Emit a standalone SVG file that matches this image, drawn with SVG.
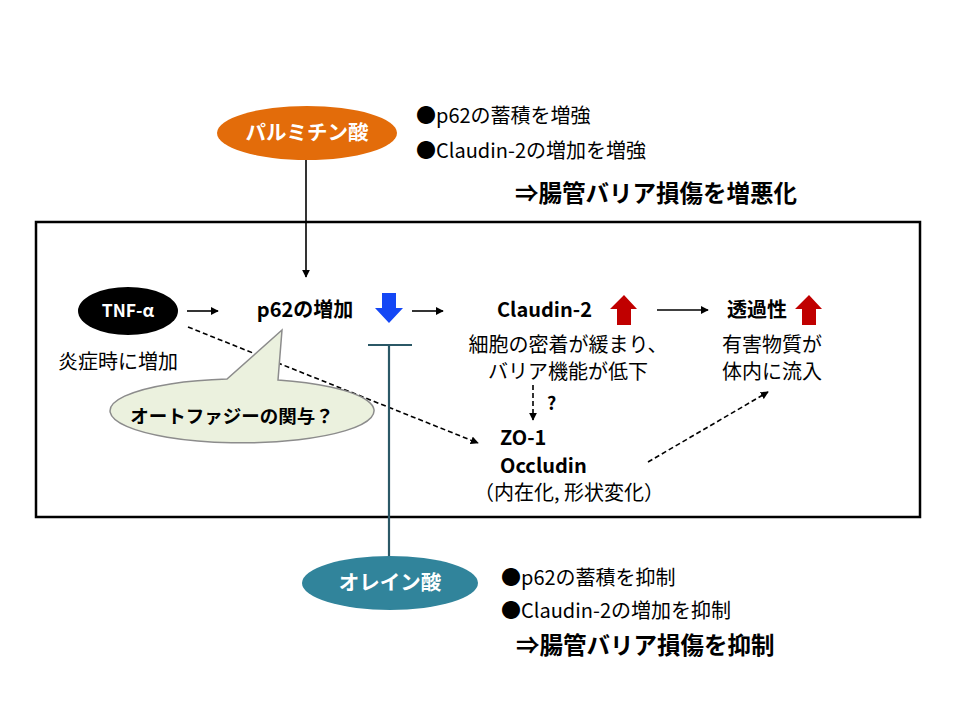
<svg xmlns="http://www.w3.org/2000/svg" width="960" height="720" viewBox="0 0 960 720">
<style>
text{font-family:"Noto Sans CJK JP","Noto Sans",sans-serif;fill:#000}
.b{font-weight:bold}
.w{fill:#fff;font-weight:bold}
.n{font-size:20px}
.m{font-size:20px;font-weight:bold}
.ln{stroke:#000;stroke-width:1.6;fill:none}
.dash{stroke:#000;stroke-width:1.6;fill:none;stroke-dasharray:5 3}
</style>
<defs>
<marker id="ah" viewBox="0 0 10 10" refX="9" refY="5" markerWidth="5" markerHeight="5" orient="auto" markerUnits="strokeWidth">
<path d="M0,0 L10,5 L0,10 z" fill="#000"/>
</marker>
</defs>
<rect width="960" height="720" fill="#fff"/>
<rect x="36" y="222" width="884" height="295" fill="none" stroke="#000" stroke-width="2.5"/>

<g id="connectors">
<line class="ln" x1="306" y1="160" x2="306" y2="277" marker-end="url(#ah)"/>
<line class="ln" x1="187" y1="311" x2="218" y2="311" marker-end="url(#ah)"/>
<line class="ln" x1="412" y1="311" x2="443" y2="311" marker-end="url(#ah)"/>
<line class="ln" x1="657" y1="310" x2="708" y2="310" marker-end="url(#ah)"/>
<line class="dash" x1="188" y1="327" x2="478" y2="443" marker-end="url(#ah)"/>
<line class="dash" x1="533" y1="385" x2="533" y2="420" marker-end="url(#ah)"/>
<line class="dash" x1="648" y1="462" x2="768" y2="392" marker-end="url(#ah)"/>
<line x1="368" y1="345" x2="412" y2="345" stroke="#2B5866" stroke-width="2.2"/>
<line x1="389" y1="345" x2="389" y2="557" stroke="#2B5866" stroke-width="2.2"/>
</g>

<g id="palmitic">
<ellipse cx="307" cy="133" rx="90" ry="27" fill="#E36C0A"/>
<text class="w" x="307" y="140" font-size="20.5" text-anchor="middle">パルミチン酸</text>
</g>
<g id="palmitic-notes">
<text class="n" x="416" y="123">●p62の蓄積を増強</text>
<text class="n" x="416" y="158">●Claudin-2の増加を増強</text>
<text class="b" x="515" y="202" font-size="23.5">⇒腸管バリア損傷を増悪化</text>
</g>

<g id="tnf">
<ellipse cx="128" cy="311" rx="50" ry="24" fill="#000"/>
<text class="w" x="128" y="317" font-size="17.5" text-anchor="middle">TNF-α</text>
<text class="n" x="58" y="369" font-size="20.5">炎症時に増加</text>
</g>

<g id="p62">
<text class="m" x="305" y="317" text-anchor="middle" font-size="20.5">p62の増加</text>
<path d="M382,293 H396 V308 H403 L389,323 L375,308 H382 Z" fill="#1447F5"/>
</g>

<g id="autophagy">
<path d="M282,330 L278,380 A132,32 0 1 1 227,379 Z" fill="#EBF1DE" stroke="#8C8C8C" stroke-width="1.5"/>
<text class="b" x="232" y="423" font-size="18.5" text-anchor="middle">オートファジーの関与？</text>
</g>

<g id="claudin">
<text class="m" x="497" y="317" font-size="21.5">Claudin-2</text>
<path d="M617,325 H631 V309 H637 L624,295 L610,309 H617 Z" fill="#C00000"/>
<text class="n" x="568" y="352" text-anchor="middle">細胞の密着が緩まり、</text>
<text class="n" x="568" y="379" text-anchor="middle">バリア機能が低下</text>
<text class="b" x="547" y="410" font-size="18">?</text>
</g>

<g id="permeability">
<text class="m" x="727" y="317">透過性</text>
<path d="M802,325 H816 V309 H822 L809,295 L795,309 H802 Z" fill="#C00000"/>
<text class="n" x="772" y="352" text-anchor="middle">有害物質が</text>
<text class="n" x="772" y="379" text-anchor="middle">体内に流入</text>
</g>

<g id="zo1">
<text class="m" x="500" y="445" font-size="20.5">ZO-1</text>
<text class="m" x="500" y="473" font-size="20.5">Occludin</text>
<text class="n" x="474" y="500">（内在化, 形状変化）</text>
</g>

<g id="oleic">
<ellipse cx="390" cy="583" rx="88" ry="27" fill="#31849B"/>
<text class="w" x="390" y="590" font-size="20.5" text-anchor="middle">オレイン酸</text>
</g>
<g id="oleic-notes">
<text class="n" x="501" y="585">●p62の蓄積を抑制</text>
<text class="n" x="501" y="618">●Claudin-2の増加を抑制</text>
<text class="b" x="516" y="654" font-size="23.5">⇒腸管バリア損傷を抑制</text>
</g>
</svg>
